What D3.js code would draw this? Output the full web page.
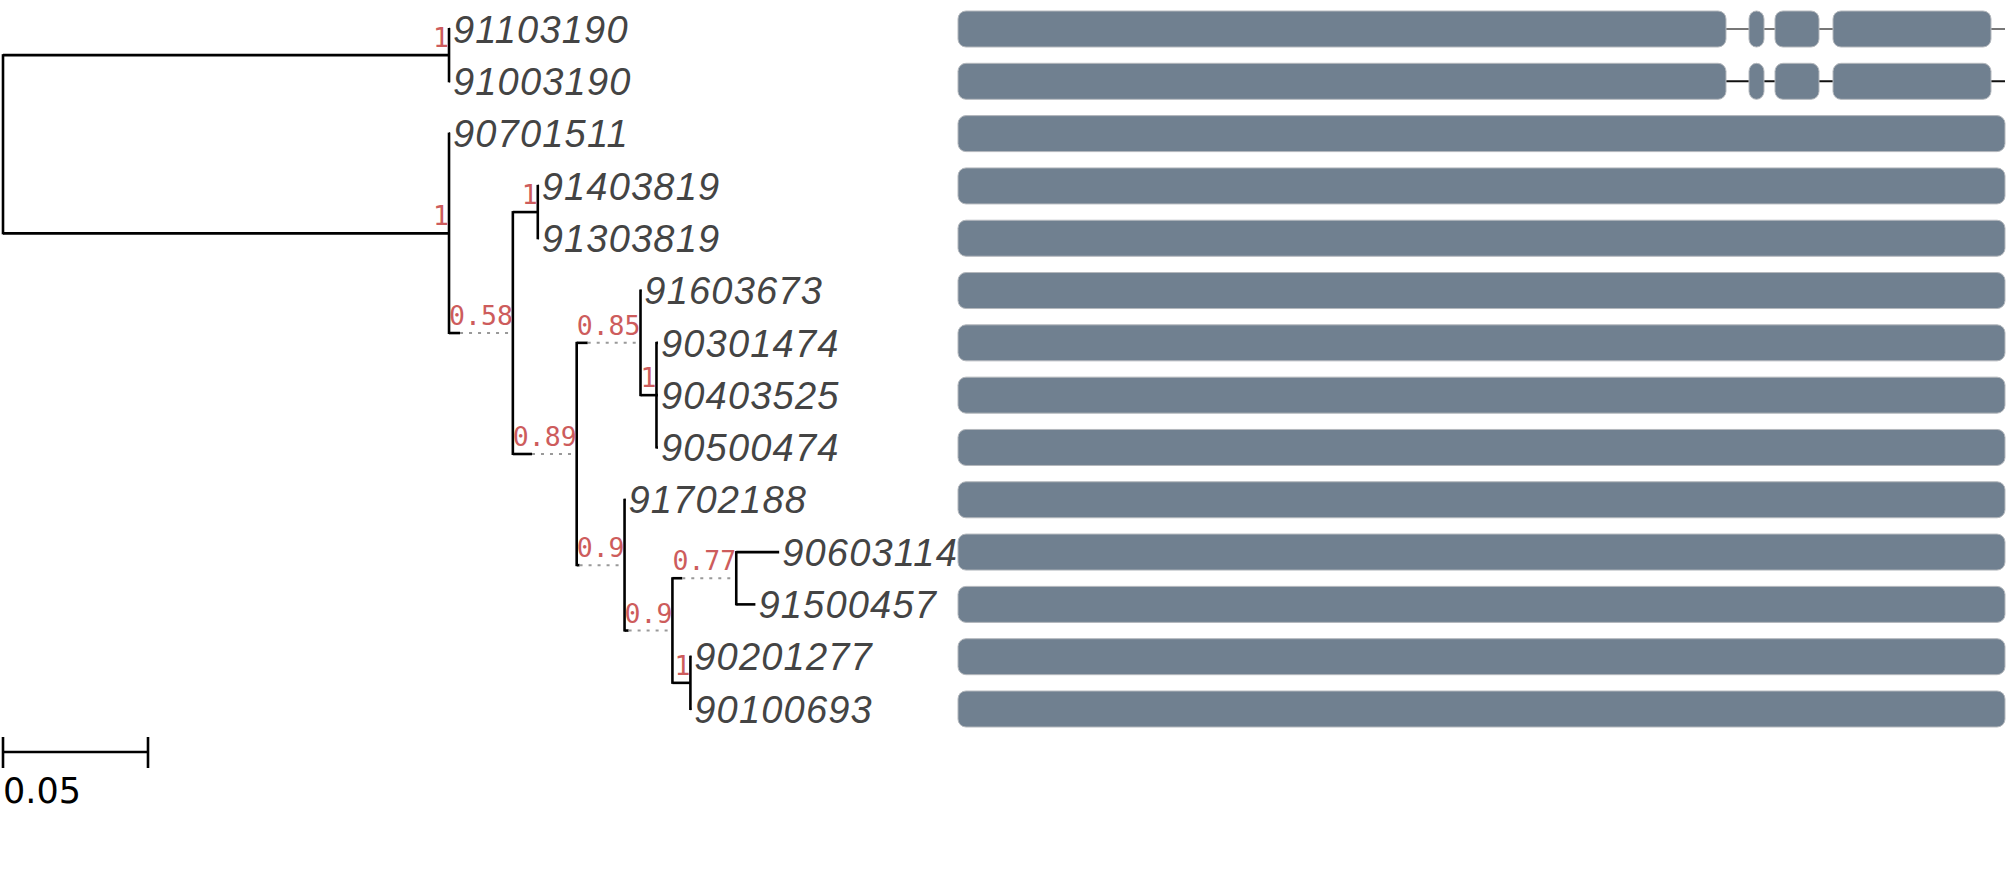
<!DOCTYPE html>
<html>
<head>
<meta charset="utf-8">
<script src="https://cdn.jsdelivr.net/npm/d3@7"></script>
<style>
  html, body { margin: 0; padding: 0; background: #fff; overflow: hidden; }
</style>
</head>
<body>
<script>
/* DATA */
// leaf order, top to bottom
var tipOrder = ["91103190", "91003190", "90701511", "91403819", "91303819",
  "91603673", "90301474", "90403525", "90500474", "91702188",
  "90603114", "91500457", "90201277", "90100693"];

// [node, parent, branch length, support]
var edges = [
  ["root", null, 0, null],
  ["n1", "root", 0.1538, 1],
  ["n2", "root", 0.1538, 1],
  ["91103190", "n1", 0.0003, null],
  ["91003190", "n1", 0.0003, null],
  ["90701511", "n2", 0.0003, null],
  ["n3", "n2", 0.0038, 0.58],
  ["n4", "n3", 0.0086, 1],
  ["n5", "n3", 0.0066, 0.89],
  ["91403819", "n4", 0.0003, null],
  ["91303819", "n4", 0.0003, null],
  ["n6", "n5", 0.0038, 0.85],
  ["n8", "n5", 0.0010, 0.9],
  ["91603673", "n6", 0.0003, null],
  ["n7", "n6", 0.0055, 1],
  ["90301474", "n7", 0.0005, null],
  ["90403525", "n7", 0.0005, null],
  ["90500474", "n7", 0.0005, null],
  ["91702188", "n8", 0.0003, null],
  ["n9", "n8", 0.0014, 0.9],
  ["n10", "n9", 0.0034, 0.77],
  ["n11", "n9", 0.0062, 1],
  ["90603114", "n10", 0.0148, null],
  ["91500457", "n10", 0.0066, null],
  ["90201277", "n11", 0.0003, null],
  ["90100693", "n11", 0.0003, null]
];

// domain boxes (residue coordinates)
var seqLength = 1047;
var splitTips = ["91103190", "91003190"];
var splitMotifs = [[0, 768], [791, 806], [817, 861], [875, 1033]];
var fullMotifs = [[0, 1047]];
var scaleBarValue = 0.05;

/* LAYOUT */
var width = 2007, height = 883;
var originX = 3;
var barX0 = 958, barX1 = 2005, barH = 36;
var supportSize = 26.5;

var svg = d3.select("body").append("svg")
  .attr("width", width)
  .attr("height", height);

var x = d3.scaleLinear().domain([0, scaleBarValue]).range([0, 145]);
var y = d3.scalePoint().domain(tipOrder).range([29, 709]);
var sx = d3.scaleLinear().domain([0, seqLength]).range([barX0, barX1]);

var root = d3.stratify()
  .id(function (d) { return d[0]; })
  .parentId(function (d) { return d[1]; })(edges);

// measure support label widths (branch gets extended if label is wider)
var measure = svg.append("text")
  .attr("font-family", "DejaVu Sans Mono")
  .attr("font-size", supportSize);
function labelWidth(v) {
  measure.text(String(v));
  return measure.node().getComputedTextLength();
}

root.eachBefore(function (n) {
  if (!n.parent) { n.px = originX; n.solidEnd = originX; return; }
  var len = x(n.data[2]);
  var ext = (n.children && n.data[3] != null) ? labelWidth(n.data[3]) : 0;
  n.solidEnd = n.parent.px + len;
  n.px = n.parent.px + Math.max(len, ext);
});
measure.remove();

root.eachAfter(function (n) {
  if (!n.children) n.py = y(n.id);
  else n.py = (n.children[0].py + n.children[n.children.length - 1].py) / 2;
});

var tree = svg.append("g").attr("class", "tree");
var nodes = root.descendants().filter(function (n) { return n.parent; });

// solid branches
tree.selectAll(".branch")
  .data(nodes)
  .enter().append("line")
  .attr("class", "branch")
  .attr("x1", function (n) { return n.parent.px; })
  .attr("x2", function (n) { return n.solidEnd; })
  .attr("y1", function (n) { return n.py; })
  .attr("y2", function (n) { return n.py; })
  .attr("stroke", "#000")
  .attr("stroke-width", 2.6);

// dotted extensions
tree.selectAll(".ext")
  .data(nodes.filter(function (n) { return n.px - n.solidEnd > 0.5; }))
  .enter().append("line")
  .attr("class", "ext")
  .attr("x1", function (n) { return n.solidEnd; })
  .attr("x2", function (n) { return n.px; })
  .attr("y1", function (n) { return n.py; })
  .attr("y2", function (n) { return n.py; })
  .attr("stroke", "#999")
  .attr("stroke-width", 2)
  .attr("stroke-dasharray", "3,6");

// verticals
tree.selectAll(".vert")
  .data(root.descendants().filter(function (n) { return n.children; }))
  .enter().append("line")
  .attr("class", "vert")
  .attr("x1", function (n) { return n.px; })
  .attr("x2", function (n) { return n.px; })
  .attr("y1", function (n) { return n.children[0].py - 1; })
  .attr("y2", function (n) { return n.children[n.children.length - 1].py + 1; })
  .attr("stroke", "#000")
  .attr("stroke-width", 2.6);

// support values
tree.selectAll(".support")
  .data(nodes.filter(function (n) { return n.children && n.data[3] != null; }))
  .enter().append("text")
  .attr("class", "support")
  .attr("x", function (n) { return n.px; })
  .attr("y", function (n) { return n.py - 8; })
  .attr("text-anchor", "end")
  .attr("font-family", "DejaVu Sans Mono")
  .attr("font-size", supportSize)
  .attr("fill", "#cd5c5c")
  .text(function (n) { return String(n.data[3]); });

// tip names
tree.selectAll(".tip")
  .data(root.leaves())
  .enter().append("text")
  .attr("class", "tip")
  .attr("x", function (n) { return n.px + 3; })
  .attr("y", function (n) { return n.py; })
  .attr("dy", "0.36em")
  .attr("font-family", "Liberation Sans")
  .attr("font-style", "italic")
  .attr("font-size", 38)
  .attr("letter-spacing", 1.2)
  .attr("fill", "#444")
  .text(function (n) { return n.id; });

// domain architecture
var seqs = svg.append("g").attr("class", "seqs");
tipOrder.forEach(function (name, i) {
  var cy = y(name);
  var split = splitTips.indexOf(name) >= 0;
  var motifs = split ? splitMotifs : fullMotifs;
  var g = seqs.append("g");
  if (split) {
    g.append("line")
      .attr("x1", sx(motifs[0][1]))
      .attr("x2", sx(seqLength))
      .attr("y1", cy).attr("y2", cy)
      .attr("stroke", i === 0 ? "#777" : "#111")
      .attr("stroke-width", 2);
  }
  g.selectAll("rect")
    .data(motifs)
    .enter().append("rect")
    .attr("x", function (m) { return sx(m[0]); })
    .attr("width", function (m) { return sx(m[1]) - sx(m[0]); })
    .attr("y", cy - barH / 2)
    .attr("height", barH)
    .attr("rx", function (m) { return Math.min(8, (sx(m[1]) - sx(m[0])) / 2); })
    .attr("ry", 8)
    .attr("fill", "#708090")
    .attr("stroke", "#b4b8bd")
    .attr("stroke-width", 1);
});

// scale bar
var sb = svg.append("g").attr("class", "scalebar")
  .attr("transform", "translate(" + originX + ",752)");
sb.append("line").attr("x1", 0).attr("x2", x(scaleBarValue))
  .attr("y1", 0).attr("y2", 0).attr("stroke", "#000").attr("stroke-width", 2.6);
sb.selectAll(".tick")
  .data([0, scaleBarValue])
  .enter().append("line")
  .attr("x1", function (d) { return x(d); })
  .attr("x2", function (d) { return x(d); })
  .attr("y1", -15).attr("y2", 16)
  .attr("stroke", "#000").attr("stroke-width", 2.6);
sb.append("text")
  .attr("x", 0).attr("y", 51)
  .attr("font-family", "DejaVu Sans")
  .attr("font-size", 35)
  .attr("fill", "#000")
  .text(String(scaleBarValue));
</script>
</body>
</html>
